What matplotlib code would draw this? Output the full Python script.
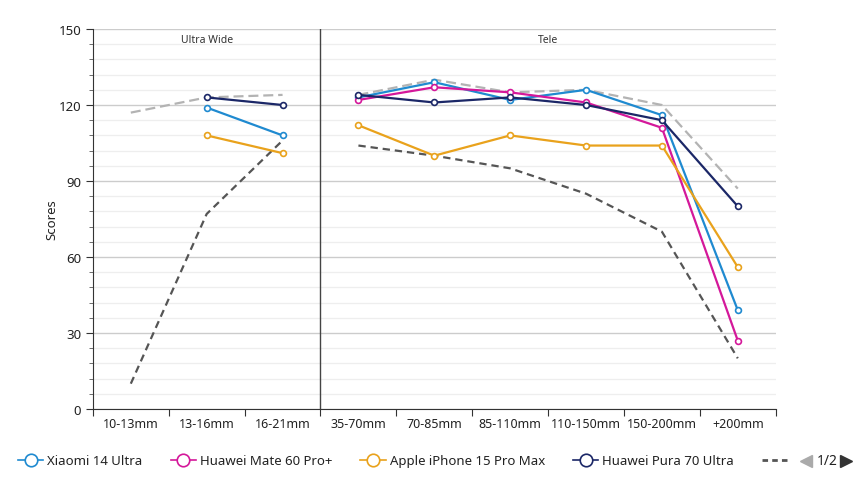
import numpy as np
import matplotlib.pyplot as plt
from matplotlib.lines import Line2D

categories = ['10-13mm', '13-16mm', '16-21mm', '35-70mm', '70-85mm',
              '85-110mm', '110-150mm', '150-200mm', '+200mm']
sections = ['Ultra Wide', 'Tele']
n_wide = 3

nan = np.nan
xiaomi = [nan, 119, 108, 123, 129, 122, 126, 116, 39]
mate60 = [nan, nan, nan, 122, 127, 125, 121, 111, 27]
iphone = [nan, 108, 101, 112, 100, 108, 104, 104, 56]
pura70 = [nan, 123, 120, 124, 121, 123, 120, 114, 80]
best_ref = [117, 123, 124, 124, 130, 125, 126, 120, 87]
low_ref = [10, 77, 106, 104, 100, 95, 85, 70, 20]

names = ['Xiaomi 14 Ultra', 'Huawei Mate 60 Pro+', 'Apple iPhone 15 Pro Max', 'Huawei Pura 70 Ultra']
colors = ['#1f8ad0', '#d4189a', '#e9a21c', '#1b2767']

plt.rcParams['font.family'] = ['Noto Sans', 'DejaVu Sans']

fig = plt.figure(figsize=(8.6, 4.81), dpi=100)
ax = fig.add_axes([0.108, 0.1476, 0.794, 0.79])

x = np.arange(len(categories))
segments = (slice(0, n_wide), slice(n_wide, len(categories)))

# reference dashed lines, broken at the divider
for seg in segments:
    ax.plot(x[seg], best_ref[seg], color='#b3b3b3', lw=1.6, dashes=(4.5, 2.2), zorder=2)
    ax.plot(x[seg], low_ref[seg], color='#555555', lw=1.6, dashes=(3.3, 2.2), zorder=2)


def draw_series(vals, c):
    vals = np.array(vals, dtype=float)
    for seg in segments:
        ax.plot(x[seg], vals[seg], color=c, lw=1.6, marker='o', ms=4.2,
                mfc='white', mec=c, mew=1.2, zorder=3)


for vals, c in zip([xiaomi, mate60, iphone, pura70], colors):
    draw_series(vals, c)

ax.set_xlim(-0.5, len(categories) - 0.5)
ax.set_ylim(0, 150)
ax.set_yticks(np.arange(0, 151, 30))
ax.set_yticks(np.arange(0, 151, 6), minor=True)
ax.set_xticks(np.arange(-0.5, len(categories), 1))
ax.set_xticklabels([])
ax.set_xticks(x, minor=True)
ax.set_xticklabels(categories, minor=True)
ax.tick_params(axis='x', which='major', length=5, color='#333333')
ax.tick_params(axis='x', which='minor', length=0, labelsize=9, pad=6, labelcolor='#222222')
ax.tick_params(axis='y', which='major', length=5, labelsize=9.5, labelcolor='#222222', color='#333333')
ax.tick_params(axis='y', which='minor', length=3, color='#555555')

ax.grid(axis='y', which='major', color='#cccccc', lw=1, zorder=0)
ax.grid(axis='y', which='minor', color='#eeeeee', lw=0.9, zorder=0)
ax.set_axisbelow(True)

for s in ['top', 'right']:
    ax.spines[s].set_visible(False)
ax.spines['left'].set_color('#333333')
ax.spines['bottom'].set_color('#333333')

ax.axvline(n_wide - 0.5, color='#444444', lw=1, zorder=1)
ax.text((n_wide - 1) / 2, 146, sections[0], ha='center', va='center', fontsize=7.5, color='#333333')
ax.text((n_wide + len(categories) - 1) / 2, 146, sections[1], ha='center', va='center', fontsize=7.5, color='#333333')

ax.set_ylabel('Scores', fontsize=9.5, color='#222222', labelpad=0)

handles = [Line2D([], [], color=c, lw=1.2, marker='o', ms=9, mfc='white', mec=c, mew=1.2)
           for c in colors]
handles.append(Line2D([], [], color='#555555', lw=2, dashes=(2, 1.5)))
labels = names + ['']
fig.legend(handles, labels, loc='center left', bbox_to_anchor=(0.021, 0.04), ncol=5,
           frameon=False, fontsize=9.5, handlelength=1.9, columnspacing=2.15,
           handletextpad=0.3, borderpad=0, borderaxespad=0, labelcolor='#222222')

# pager
fig.text(0.962, 0.04, '1/2', ha='center', va='center', fontsize=10, color='#222222')
fig.add_artist(Line2D([0.937], [0.04], marker='<', ms=8, color='#aaaaaa', transform=fig.transFigure))
fig.add_artist(Line2D([0.984], [0.04], marker='>', ms=8, color='#333333', transform=fig.transFigure))

fig.savefig('out.png', dpi=100)
